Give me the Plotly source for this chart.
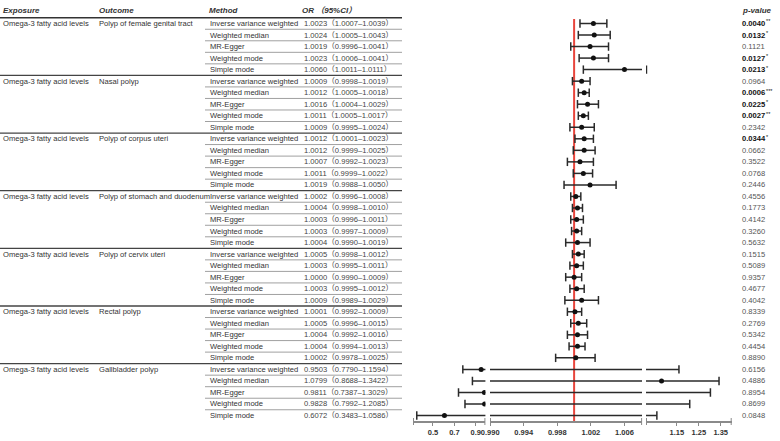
import plotly.graph_objects as go

# ---------------- data ----------------
exposure = "Omega-3 fatty acid levels"
outcomes = ["Polyp of female genital tract", "Nasal polyp", "Polyp of corpus uteri",
            "Polyp of stomach and duodenum", "Polyp of cervix uteri", "Rectal polyp",
            "Gallbladder polyp"]
methods = ["Inverse variance weighted", "Weighted median", "MR-Egger",
           "Weighted mode", "Simple mode"]

odds_ratio = [1.0023, 1.0024, 1.0019, 1.0023, 1.0060,
              1.0009, 1.0012, 1.0016, 1.0011, 1.0009,
              1.0012, 1.0012, 1.0007, 1.0011, 1.0019,
              1.0002, 1.0004, 1.0003, 1.0003, 1.0004,
              1.0005, 1.0003, 1.0000, 1.0003, 1.0009,
              1.0001, 1.0005, 1.0004, 1.0004, 1.0002,
              0.9503, 1.0799, 0.9811, 0.9828, 0.6072]
ci_lower = [1.0007, 1.0005, 0.9996, 1.0006, 1.0011,
            0.9998, 1.0005, 1.0004, 1.0005, 0.9995,
            1.0001, 0.9999, 0.9992, 0.9999, 0.9988,
            0.9996, 0.9998, 0.9996, 0.9997, 0.9990,
            0.9998, 0.9995, 0.9990, 0.9995, 0.9989,
            0.9992, 0.9996, 0.9992, 0.9994, 0.9978,
            0.7790, 0.8688, 0.7387, 0.7992, 0.3483]
ci_upper = [1.0039, 1.0043, 1.0041, 1.0041, 1.0111,
            1.0019, 1.0018, 1.0029, 1.0017, 1.0024,
            1.0023, 1.0025, 1.0023, 1.0022, 1.0050,
            1.0008, 1.0010, 1.0011, 1.0009, 1.0019,
            1.0012, 1.0011, 1.0009, 1.0012, 1.0029,
            1.0009, 1.0015, 1.0016, 1.0013, 1.0025,
            1.1594, 1.3422, 1.3029, 1.2085, 1.0586]
p_value = [0.0040, 0.0132, 0.1121, 0.0127, 0.0213,
           0.0964, 0.0006, 0.0225, 0.0027, 0.2342,
           0.0344, 0.0662, 0.3522, 0.0768, 0.2446,
           0.4556, 0.1773, 0.4142, 0.3260, 0.5632,
           0.1515, 0.5089, 0.9357, 0.4677, 0.4042,
           0.8339, 0.2769, 0.5342, 0.4454, 0.8890,
           0.6156, 0.4886, 0.8954, 0.8699, 0.0848]

left_ticks = [0.5, 0.7, 0.9]
mid_ticks = [0.990, 0.994, 0.998, 1.002, 1.006]
right_ticks = [1.15, 1.25, 1.35]
null_value = 1.0

# ---------------- layout helpers ----------------
W, H = 780, 441
FONT = "Liberation Sans, Arial, Noto Sans CJK SC, sans-serif"
n = len(odds_ratio)
rows = list(range(n))

segments = {
    "x": dict(domain=(413, 485.4), rng=(0.313, 0.9902), ticks=left_ticks, fmt="{:g}"),
    "x2": dict(domain=(490, 642.1), rng=(0.98998, 1.0081), ticks=mid_ticks, fmt="{:.3f}"),
    "x3": dict(domain=(646, 731.7), rng=(1.009, 1.40), ticks=right_ticks, fmt="{:g}"),
}


def fx(p):
    return p / W


def stars(p):
    if p < 0.001:
        return "***"
    if p < 0.01:
        return "**"
    if p < 0.05:
        return "*"
    return ""


fig = go.Figure()
line_col = "#2a2a2a"
for ax, seg in segments.items():
    lo_r, hi_r = seg["rng"]

    def inside(v):
        return lo_r <= v <= hi_r

    xs, ys = [], []
    for i in rows:
        xs += [ci_lower[i], ci_upper[i], None]
        ys += [i, i, None]
    fig.add_trace(go.Scatter(x=xs, y=ys, mode="lines",
                             line=dict(color=line_col, width=1.5),
                             xaxis=ax, yaxis="y", hoverinfo="skip"))
    cx, cy = [], []
    for i in rows:
        for v in (ci_lower[i], ci_upper[i]):
            if inside(v):
                cx.append(v)
                cy.append(i)
    fig.add_trace(go.Scatter(x=cx, y=cy, mode="markers",
                             marker=dict(symbol="line-ns", size=6,
                                         line=dict(color=line_col, width=1.5)),
                             xaxis=ax, yaxis="y", hoverinfo="skip"))
    px_, py_ = [], []
    for i in rows:
        if inside(odds_ratio[i]):
            px_.append(odds_ratio[i])
            py_.append(i)
    fig.add_trace(go.Scatter(x=px_, y=py_, mode="markers",
                             marker=dict(symbol="circle", size=5, color="#111111"),
                             xaxis=ax, yaxis="y", hoverinfo="skip"))

# ---------------- table text ----------------
ann = []
txt_col = "#333333"
fs = 7.6


def add_text(xp, y, text, size=fs, color=txt_col):
    ann.append(dict(xref="paper", yref="y", x=fx(xp), y=y, text=text,
                    xanchor="left", yanchor="middle", align="left", showarrow=False,
                    borderpad=0, borderwidth=0,
                    font=dict(family=FONT, size=size, color=color)))


hy = -1.13
add_text(3, hy, "<b><i>Exposure</i></b>", 8)
add_text(99, hy, "<b><i>Outcome</i></b>", 8)
add_text(209, hy, "<b><i>Method</i></b>", 8)
add_text(302, hy, "<b><i>OR （95%CI）</i></b>", 8)
add_text(741.5, hy, "<b><i>p-value</i></b>", 8)

for g, outc in enumerate(outcomes):
    r0 = g * len(methods)
    add_text(3, r0, exposure)
    add_text(99, r0, outc)

for i in rows:
    add_text(209.5, i, methods[i % len(methods)])
    add_text(303.5, i, f"{odds_ratio[i]:.4f}（{ci_lower[i]:.4f}–{ci_upper[i]:.4f}）", color="#444444")
    s = stars(p_value[i])
    if s:
        add_text(742, i, f"<b>{p_value[i]:.4f}</b>", color="#111111")
        add_text(766, i - 0.18, s, size=5.5, color="#111111")
    else:
        add_text(742, i, f"{p_value[i]:.4f}", color="#555555")

# ---------------- table rules ----------------
shapes = []
shapes.append(dict(type="line", xref="paper", yref="y", x0=0, x1=fx(402),
                   y0=-0.5, y1=-0.5, line=dict(color="#333333", width=1.4)))
for i in rows[:-1]:
    if (i + 1) % len(methods) == 0:
        shapes.append(dict(type="line", xref="paper", yref="y", x0=0, x1=fx(402),
                           y0=i + 0.5, y1=i + 0.5, line=dict(color="#444444", width=1.3)))
    else:
        shapes.append(dict(type="line", xref="paper", yref="y", x0=fx(205), x1=fx(402),
                           y0=i + 0.5, y1=i + 0.5, line=dict(color="#a0a0a0", width=1)))

y_bottom = 34.475
shapes.append(dict(type="line", xref="x2", yref="y", x0=null_value, x1=null_value,
                   y0=-0.4, y1=y_bottom, layer="below",
                   line=dict(color="#e8453c", width=2)))

# end caps of the broken axis segments
axis_y = 20 / H
for ax, seg in segments.items():
    d0, d1 = seg["domain"]
    for xp in (d0 + 0.5, d1 - 0.5):
        shapes.append(dict(type="line", xref="paper", yref="paper",
                           x0=fx(xp), x1=fx(xp), y0=axis_y - 4 / H, y1=axis_y + 3 / H,
                           line=dict(color="#8a8a8a", width=1)))


def axis(seg):
    d0, d1 = seg["domain"]
    return dict(domain=[fx(d0), fx(d1)], range=list(seg["rng"]), anchor="y",
                automargin=False, showgrid=False, zeroline=False,
                showline=True, linecolor="#8a8a8a", linewidth=2,
                ticks="outside", ticklen=3, tickwidth=1, tickcolor="#8a8a8a",
                tickvals=seg["ticks"],
                ticktext=["<b>" + seg["fmt"].format(t) + "</b>" for t in seg["ticks"]],
                tickfont=dict(family=FONT, size=7.5, color="#333333"))


fig.update_layout(
    width=W, height=H, autosize=False,
    margin=dict(l=0, r=0, t=0, b=0, pad=0, autoexpand=False),
    paper_bgcolor="white", plot_bgcolor="white", showlegend=False,
    xaxis=axis(segments["x"]), xaxis2=axis(segments["x2"]), xaxis3=axis(segments["x3"]),
    yaxis=dict(domain=[axis_y, 1], range=[y_bottom, -2.038], visible=False,
               automargin=False),
    annotations=ann, shapes=shapes,
)

fig.write_html("out.html", config={"displayModeBar": False},
               post_script="document.body.style.margin='0';document.body.style.padding='0';")
